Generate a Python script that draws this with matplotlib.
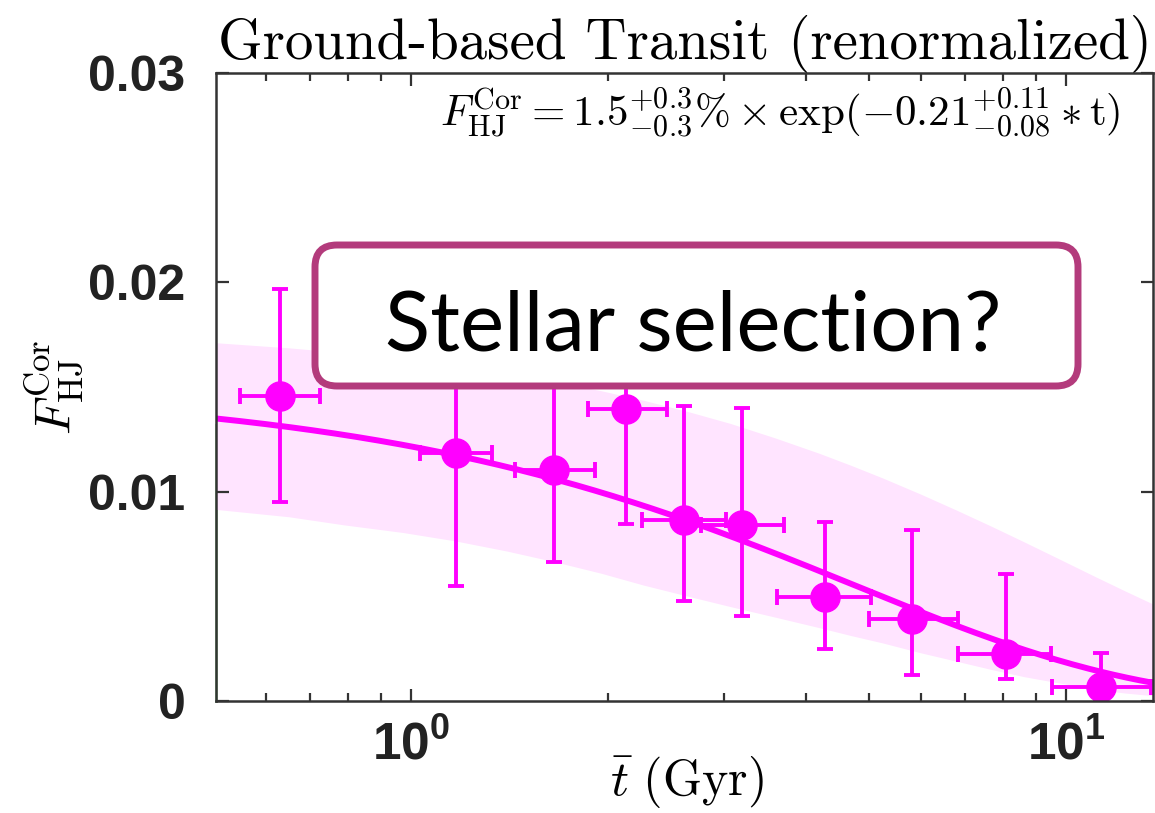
import numpy as np
import matplotlib
matplotlib.use('Agg')
import matplotlib.pyplot as plt
from matplotlib.patches import FancyBboxPatch
from matplotlib.ticker import FixedLocator, FixedFormatter, NullFormatter

plt.rcParams['mathtext.fontset'] = 'cm'
plt.rcParams['mathtext.bf'] = 'Liberation Sans:bold'

# binned hot-Jupiter fraction vs mean stellar age (ground-based transit)
t_mid = np.array([0.63, 1.17, 1.65, 2.13, 2.61, 3.20, 4.29, 5.82, 8.10, 11.3])
t_left = np.array([0.548, 1.03, 1.44, 1.86, 2.25, 2.77, 3.62, 5.00, 6.84, 9.53])
t_right = np.array([0.726, 1.33, 1.91, 2.46, 3.02, 3.71, 5.04, 6.84, 9.49, 13.5])
f_val = np.array([0.01457, 0.01185, 0.01104, 0.01395, 0.00865, 0.00841, 0.00497, 0.00392, 0.00225, 0.00067])
f_hi = np.array([0.0197, 0.0182, 0.0156, 0.0195, 0.0141, 0.0140, 0.00855, 0.00817, 0.00607, 0.00229])
f_lo = np.array([0.00951, 0.00549, 0.00664, 0.00846, 0.00478, 0.00406, 0.00248, 0.00124, 0.00105, 0.0])

# fit: F = amp * exp(-rate * t)
fit_amp = 0.015
fit_rate = 0.21

# 1-sigma band edges
band_t = np.array([0.5, 0.65, 0.79, 0.97, 1.17, 1.4, 1.65, 1.95, 2.26, 2.65, 3.07, 3.6,
                   4.2, 4.7, 5.25, 6.0, 6.8, 7.7, 8.63, 9.8, 11.1, 12.3, 13.6])
band_hi = np.array([0.01712, 0.01687, 0.01664, 0.01634, 0.01601, 0.01565, 0.01526, 0.01482,
                    0.01437, 0.01382, 0.01326, 0.01256, 0.01183, 0.01125, 0.01065, 0.00988,
                    0.00912, 0.00834, 0.00760, 0.00676, 0.00593, 0.00526, 0.00462])
band_lo = np.array([0.00916, 0.00880, 0.00841, 0.00805, 0.00764, 0.00716, 0.00666, 0.00610,
                    0.00554, 0.00500, 0.00451, 0.00400, 0.00350, 0.00312, 0.00277, 0.00230,
                    0.00190, 0.00150, 0.00116, 0.00085, 0.00055, 0.00038, 0.00025])

xticks = [1, 10]
xticklabels = [r'$\mathbf{10}^{\mathbf{0}}$', r'$\mathbf{10}^{\mathbf{1}}$']
yticks = [0, 0.01, 0.02, 0.03]
yticklabels = ['0', '0.01', '0.02', '0.03']

magenta = '#ff00ff'
dark = '#333333'

fig = plt.figure(figsize=(11.55, 8.13), dpi=100)
ax = fig.add_axes([0.1870, 0.1378, 0.8113, 0.7724])

ax.fill_between(band_t, band_lo, band_hi, color='#ffe4ff', lw=0, zorder=1)

tt = np.geomspace(0.5, 14, 300)
ax.plot(tt, fit_amp * np.exp(-fit_rate * tt), color=magenta, lw=4.3, zorder=3)

ax.errorbar(t_mid, f_val,
            xerr=[t_mid - t_left, t_right - t_mid],
            yerr=[f_val - f_lo, f_hi - f_val],
            fmt='o', color=magenta, ms=21, elinewidth=2.8,
            capsize=6, capthick=2.8, zorder=4)

# stray green trace along the left edge
ax.plot([0.503, 0.503], [0, 0.0132], color='#a8eca8', lw=2, zorder=0, clip_on=False)

ax.set_xscale('log')
ax.set_xlim(0.503, 13.58)
ax.set_ylim(0, 0.03)

for s in ax.spines.values():
    s.set_color(dark)
    s.set_linewidth(1.8)
    s.set_zorder(5)

ax.xaxis.set_major_locator(FixedLocator(xticks))
ax.xaxis.set_major_formatter(FixedFormatter(xticklabels))
ax.xaxis.set_minor_locator(FixedLocator([0.6, 0.7, 0.8, 0.9, 2, 3, 4, 5, 6, 7, 8, 9]))
ax.xaxis.set_minor_formatter(NullFormatter())
ax.yaxis.set_major_locator(FixedLocator(yticks))
ax.yaxis.set_major_formatter(FixedFormatter(yticklabels))

ax.tick_params(which='both', direction='in', top=True, right=True, color=dark, width=1.6)
ax.tick_params(which='major', length=9)
ax.tick_params(which='minor', length=6)
ax.tick_params(axis='x', which='major', pad=14)
ax.tick_params(axis='y', which='major', pad=22)

for lab in ax.get_xticklabels():
    lab.set_math_fontfamily('custom')
    lab.set_fontsize(37)
    lab.set_color('#222222')
for lab in ax.get_yticklabels():
    lab.set_family('Liberation Sans')
    lab.set_fontweight('bold')
    lab.set_fontsize(36)
    lab.set_color('#222222')

ax.set_title('Ground-based Transit (renormalized)', family='cmr10', fontsize=41, pad=8)
ax.set_ylabel(r'$F_{\rm HJ}^{\rm Cor}$', fontsize=36, labelpad=2)
# x label sits tight under the tick labels
fig.text(687 / 1155, (813 - 795) / 813, r'$\bar{t}\ (\mathrm{Gyr})$',
         fontsize=36, ha='center', va='baseline')

ax.text(0.965, 0.915,
        r'$F_{\rm HJ}^{\rm Cor}=1.5^{+0.3}_{-0.3}\%\times\exp(-0.21^{+0.11}_{-0.08}\ast\mathrm{t})$',
        transform=ax.transAxes, ha='right', va='baseline', fontsize=31, zorder=6)

# callout box
box = FancyBboxPatch((3.15, 4.27), 7.63, 1.41,
                     boxstyle='round,pad=0,rounding_size=0.22',
                     transform=fig.dpi_scale_trans, facecolor='white',
                     edgecolor='#b33b7c', linewidth=5, zorder=10)
fig.patches.append(box)
fig.text(6.93 / 11.55, 4.63 / 8.13, 'Stellar selection?', family='Lato',
         fontsize=60, ha='center', va='baseline', color='black', zorder=11)

fig.savefig('out.png', dpi=100)
